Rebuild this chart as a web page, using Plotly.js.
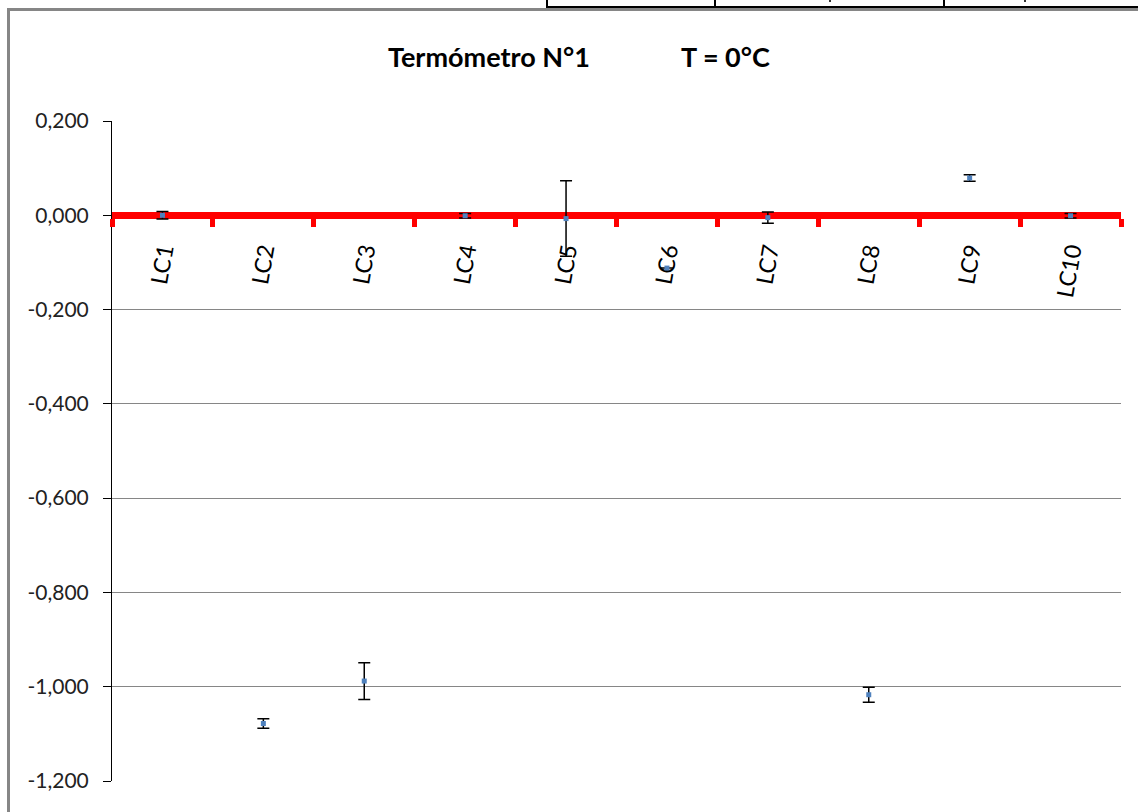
<!DOCTYPE html>
<html>
<head>
<meta charset="utf-8">
<script src="https://cdn.plot.ly/plotly-3.0.1.min.js"></script>
<style>
  html, body { margin: 0; padding: 0; background: #ffffff; }
  #wrap { position: relative; width: 1138px; height: 812px; overflow: hidden; background: #ffffff; }
  #chart { position: absolute; left: 0; top: 0; width: 1138px; height: 812px; }
  .ln { position: absolute; pointer-events: none; }
</style>
</head>
<body>
<div id="wrap">
  <div id="chart"></div>
  <!-- outer frame of the embedded chart -->
  <div class="ln" style="left:7px; top:8px; width:1131px; height:3px; background:#868686;"></div>
  <div class="ln" style="left:7px; top:8px; width:3px; height:804px; background:#868686;"></div>
  <!-- fragment of the table above -->
  <div class="ln" style="left:546px; top:6px; width:592px; height:2px; background:#000;"></div>
  <div class="ln" style="left:546px; top:0px; width:2px; height:8px; background:#000;"></div>
  <div class="ln" style="left:714px; top:0px; width:2px; height:8px; background:#000;"></div>
  <div class="ln" style="left:943px; top:0px; width:2px; height:8px; background:#000;"></div>
  <div class="ln" style="left:829px; top:0px; width:2px; height:2px; background:#333;"></div>
  <div class="ln" style="left:1024px; top:0px; width:2px; height:2px; background:#333;"></div>
</div>
<script>
// ---- data ----
const categories = ["LC1", "LC2", "LC3", "LC4", "LC5", "LC6", "LC7", "LC8", "LC9", "LC10"];
const values     = [0.000, -1.078, -0.988, -0.001, -0.007, -0.112, -0.005, -1.017, 0.079, -0.001];
const errors     = [0.008, 0.010, 0.039, 0.005, 0.080, 0.000, 0.012, 0.016, 0.007, 0.005];
const yTickVals  = [0.2, 0, -0.2, -0.4, -0.6, -0.8, -1.0, -1.2];
const yTickText  = ["0,200", "0,000", "-0,200", "-0,400", "-0,600", "-0,800", "-1,000", "-1,200"];
const yRange     = [-1.2, 0.2];
const titleLeft  = "Termómetro N°1";
const titleRight = "T = 0°C";

const nb = "\u00A0";
const titleText = titleLeft + nb.repeat(14) + titleRight;

const trace = {
  type: "scatter",
  mode: "markers",
  x: categories,
  y: values,
  marker: { symbol: "square", size: 5, color: "#4F81BD" },
  error_y: { type: "data", array: errors, visible: true, color: "#000000", thickness: 1.5, width: 6 },
  cliponaxis: false,
  hoverinfo: "skip"
};

const zeroPos = (0 - yRange[0]) / (yRange[1] - yRange[0]);

const layout = {
  width: 1138,
  height: 812,
  margin: { l: 112, r: 17, t: 121, b: 31, pad: 0 },
  paper_bgcolor: "rgba(0,0,0,0)",
  plot_bgcolor: "rgba(0,0,0,0)",
  showlegend: false,
  title: {
    text: titleText,
    font: { family: "Lato", size: 27, color: "#000000", weight: "bold" },
    xref: "container", x: 388 / 1138, xanchor: "left",
    yref: "container", y: 1 - 58 / 812, yanchor: "middle"
  },
  xaxis: {
    type: "category",
    range: [-0.5, categories.length - 0.5],
    anchor: "free",
    position: zeroPos,
    layer: "below traces",
    showline: true,
    linecolor: "#ff0000",
    linewidth: 7,
    ticks: "outside",
    tickson: "boundaries",
    ticklen: 8,
    tickwidth: 5,
    tickcolor: "#ff0000",
    tickangle: -80,
    ticklabelstandoff: 9,
    tickfont: { family: "Lato", size: 23, color: "#000000" },
    showgrid: false,
    zeroline: false,
    fixedrange: true
  },
  yaxis: {
    range: yRange,
    tickmode: "array",
    tickvals: yTickVals,
    ticktext: yTickText,
    layer: "below traces",
    showgrid: true,
    gridcolor: "#868686",
    gridwidth: 1,
    showline: true,
    linecolor: "#000000",
    linewidth: 1,
    ticks: "outside",
    ticklen: 8,
    tickwidth: 1,
    tickcolor: "#000000",
    ticklabelstandoff: 10,
    tickfont: { family: "Lato", size: 21, color: "#222222" },
    zeroline: false,
    fixedrange: true
  }
};

Plotly.newPlot("chart", [trace], layout, { displayModeBar: false, staticPlot: true });
</script>
</body>
</html>
